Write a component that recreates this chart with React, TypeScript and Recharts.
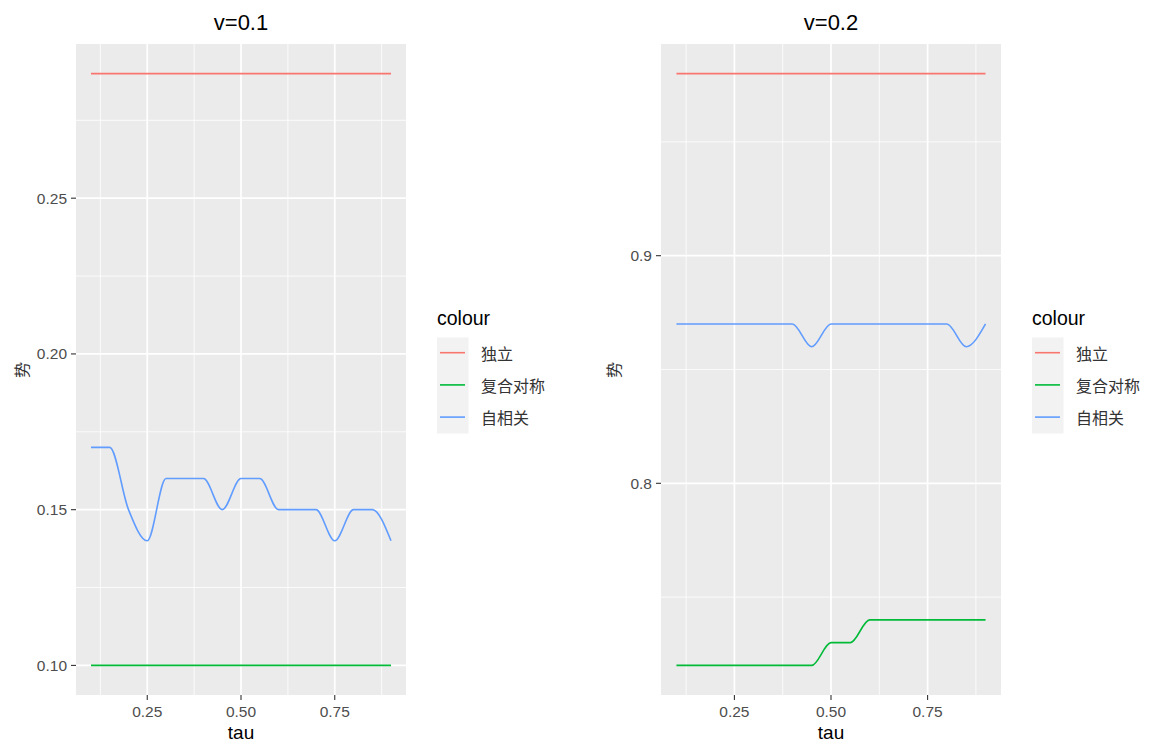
import { LineChart, Line, XAxis, YAxis, CartesianGrid } from "recharts";

// tau grid shared by both panels
const TAU = [0.1, 0.15, 0.2, 0.25, 0.3, 0.35, 0.4, 0.45, 0.5, 0.55, 0.6, 0.65, 0.7, 0.75, 0.8, 0.85, 0.9];

const SERIES_KEYS = ["indep", "cs", "ar"];
const SERIES_NAMES = ["独立", "复合对称", "自相关"];
const SERIES_COLORS = ["#F8766D", "#00BA38", "#619CFF"];

// v = 0.1
const V1_INDEP = [0.29, 0.29, 0.29, 0.29, 0.29, 0.29, 0.29, 0.29, 0.29, 0.29, 0.29, 0.29, 0.29, 0.29, 0.29, 0.29, 0.29];
const V1_CS = [0.1, 0.1, 0.1, 0.1, 0.1, 0.1, 0.1, 0.1, 0.1, 0.1, 0.1, 0.1, 0.1, 0.1, 0.1, 0.1, 0.1];
const V1_AR = [0.17, 0.17, 0.15, 0.14, 0.16, 0.16, 0.16, 0.15, 0.16, 0.16, 0.15, 0.15, 0.15, 0.14, 0.15, 0.15, 0.14];

// v = 0.2
const V2_INDEP = [0.98, 0.98, 0.98, 0.98, 0.98, 0.98, 0.98, 0.98, 0.98, 0.98, 0.98, 0.98, 0.98, 0.98, 0.98, 0.98, 0.98];
const V2_CS = [0.72, 0.72, 0.72, 0.72, 0.72, 0.72, 0.72, 0.72, 0.73, 0.73, 0.74, 0.74, 0.74, 0.74, 0.74, 0.74, 0.74];
const V2_AR = [0.87, 0.87, 0.87, 0.87, 0.87, 0.87, 0.87, 0.86, 0.87, 0.87, 0.87, 0.87, 0.87, 0.87, 0.87, 0.86, 0.87];

const X_TICKS = [0.25, 0.5, 0.75];
const X_MINOR = [0.125, 0.375, 0.625, 0.875];
const X_DOMAIN: [number, number] = [0.06, 0.94];

const V1_Y_TICKS = [0.1, 0.15, 0.2, 0.25];
const V1_Y_MINOR = [0.125, 0.175, 0.225, 0.275];
const V1_Y_DOMAIN: [number, number] = [0.0905, 0.2995];

const V2_Y_TICKS = [0.8, 0.9];
const V2_Y_MINOR = [0.75, 0.85, 0.95];
const V2_Y_DOMAIN: [number, number] = [0.707, 0.993];

const FONT = "'Liberation Sans', Arial, sans-serif";
const CJK = "'Noto Sans CJK SC', sans-serif";

function buildRows(indep: number[], cs: number[], ar: number[]) {
  return TAU.map((tau, i) => ({ tau, indep: indep[i], cs: cs[i], ar: ar[i] }));
}

interface PanelProps {
  left: number;
  width: number;
  marginLeft: number;
  marginRight: number;
  rows: ReturnType<typeof buildRows>;
  yDomain: [number, number];
  yTicks: number[];
  yMinor: number[];
  yDigits: number;
}

function Panel({ left, width, marginLeft, marginRight, rows, yDomain, yTicks, yMinor, yDigits }: PanelProps) {
  const tickStyle = { fontSize: 15.5, fill: "#4D4D4D", fontFamily: FONT };
  return (
    <div style={{ position: "absolute", left, top: 0 }}>
      <LineChart
        width={width}
        height={747}
        data={rows}
        margin={{ top: 44, right: marginRight, bottom: 22, left: marginLeft }}
      >
        <CartesianGrid
          fill="#EBEBEB"
          fillOpacity={1}
          stroke="#FFFFFF"
          strokeWidth={0.8}
          horizontalValues={yMinor}
          verticalValues={X_MINOR}
        />
        <CartesianGrid
          stroke="#FFFFFF"
          strokeWidth={1.7}
          horizontalValues={yTicks}
          verticalValues={X_TICKS}
        />
        <XAxis
          dataKey="tau"
          type="number"
          domain={X_DOMAIN}
          ticks={X_TICKS}
          tickFormatter={(v: number) => v.toFixed(2)}
          axisLine={false}
          tickLine={{ stroke: "#333333", strokeWidth: 1.1 }}
          tickSize={5}
          tickMargin={6}
          height={30}
          tick={tickStyle}
          allowDataOverflow
        />
        <YAxis
          type="number"
          domain={yDomain}
          ticks={yTicks}
          tickFormatter={(v: number) => v.toFixed(yDigits)}
          axisLine={false}
          tickLine={{ stroke: "#333333", strokeWidth: 1.1 }}
          tickSize={5}
          tickMargin={4}
          width={40}
          tick={tickStyle}
          allowDataOverflow
        />
        {SERIES_KEYS.map((key, i) => (
          <Line
            key={key}
            type="monotone"
            dataKey={key}
            name={SERIES_NAMES[i]}
            stroke={SERIES_COLORS[i]}
            strokeWidth={1.6}
            dot={false}
            isAnimationActive={false}
          />
        ))}
      </LineChart>
    </div>
  );
}

function Annotations({ cx, ylabX, legendX, title }: { cx: number; ylabX: number; legendX: number; title: string }) {
  return (
    <g>
      <text x={cx} y={29.5} textAnchor="middle" fontSize={22} fontFamily={FONT} fill="#000">
        {title}
      </text>
      <text x={cx} y={739} textAnchor="middle" fontSize={19} fontFamily={FONT} fill="#000">
        tau
      </text>
      <text
        x={ylabX}
        y={370}
        textAnchor="middle"
        dominantBaseline="central"
        fontSize={16}
        fontFamily={CJK}
        fill="#333"
        transform={`rotate(-90, ${ylabX}, 370)`}
      >
        势
      </text>
      <text x={legendX} y={325} fontSize={19.5} fontFamily={FONT} fill="#000">
        colour
      </text>
      <rect x={legendX} y={337.5} width={31.5} height={96} fill="#F2F2F2" />
      {SERIES_NAMES.map((name, i) => {
        const y = 352.7 + i * 32.2;
        return (
          <g key={name}>
            <line x1={legendX + 3} x2={legendX + 28} y1={y} y2={y} stroke={SERIES_COLORS[i]} strokeWidth={1.6} />
            <text x={legendX + 44} y={y} dominantBaseline="central" fontSize={16} fontFamily={CJK} fill="#333">
              {name}
            </text>
          </g>
        );
      })}
    </g>
  );
}

export default function App() {
  const rows1 = buildRows(V1_INDEP, V1_CS, V1_AR);
  const rows2 = buildRows(V2_INDEP, V2_CS, V2_AR);
  return (
    <div style={{ position: "absolute", left: 0, top: 0, width: 1150, height: 747, background: "#fff" }}>
      <Panel
        left={0}
        width={420}
        marginLeft={36}
        marginRight={14}
        rows={rows1}
        yDomain={V1_Y_DOMAIN}
        yTicks={V1_Y_TICKS}
        yMinor={V1_Y_MINOR}
        yDigits={2}
      />
      <Panel
        left={590}
        width={415}
        marginLeft={31}
        marginRight={4}
        rows={rows2}
        yDomain={V2_Y_DOMAIN}
        yTicks={V2_Y_TICKS}
        yMinor={V2_Y_MINOR}
        yDigits={1}
      />
      <svg width={1150} height={747} style={{ position: "absolute", left: 0, top: 0, pointerEvents: "none" }}>
        <Annotations cx={241} ylabX={21} legendX={437} title="v=0.1" />
        <Annotations cx={831} ylabX={613} legendX={1032} title="v=0.2" />
      </svg>
    </div>
  );
}
